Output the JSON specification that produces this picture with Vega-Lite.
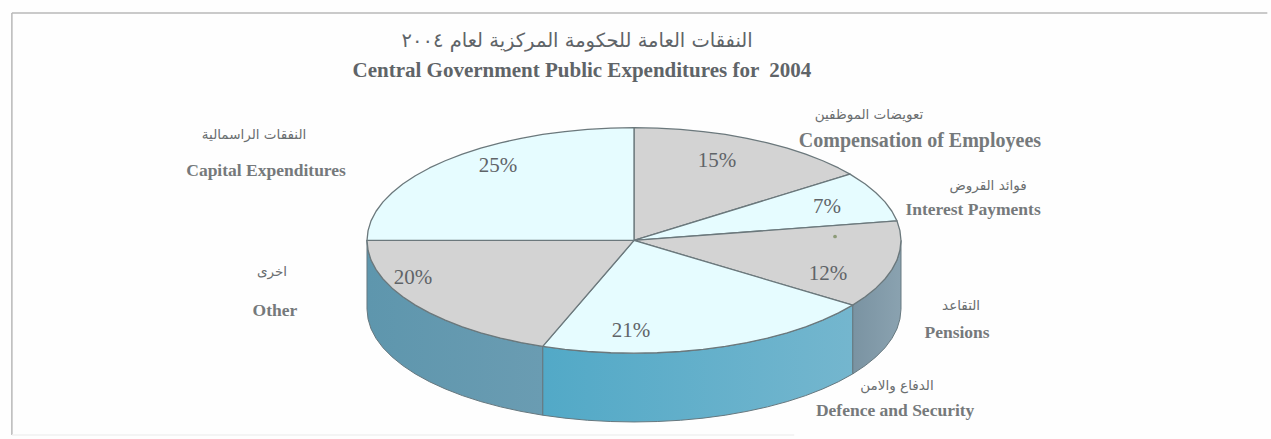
{"$schema":"https://vega.github.io/schema/vega-lite/v6.json","width":1271,"height":439,"autosize":{"type":"fit","contains":"padding"},"padding":0,"background":"#fefefe","config":{"view":{"stroke":null}},
"datasets":{
"frame":[{"s":"top","i":0,"x":-2.33,"y":2.018},{"s":"top","i":1,"x":2.372,"y":2.018},{"s":"left","i":0,"x":-2.33,"y":2.018},{"s":"left","i":1,"x":-2.33,"y":-1.726}],
"bottomframe":[{"s":"bottom","i":0,"x":-2.33,"y":-1.726},{"s":"bottom","i":1,"x":0.6,"y":-1.726}],
"sides":[
{"s":"pen","x":1,"y":0,"b":-0.61},{"s":"pen","x":0.996,"y":-0.087,"b":-0.697},{"s":"pen","x":0.985,"y":-0.174,"b":-0.784},{"s":"pen","x":0.966,"y":-0.259,"b":-0.869},{"s":"pen","x":0.94,"y":-0.342,"b":-0.952},{"s":"pen","x":0.906,"y":-0.423,"b":-1.033},{"s":"pen","x":0.866,"y":-0.5,"b":-1.11},{"s":"pen","x":0.819,"y":-0.574,"b":-1.184},
{"s":"def","x":0.819,"y":-0.574,"b":-1.184},{"s":"def","x":0.766,"y":-0.643,"b":-1.253},{"s":"def","x":0.707,"y":-0.707,"b":-1.317},{"s":"def","x":0.643,"y":-0.766,"b":-1.376},{"s":"def","x":0.574,"y":-0.819,"b":-1.429},{"s":"def","x":0.5,"y":-0.866,"b":-1.476},{"s":"def","x":0.423,"y":-0.906,"b":-1.516},{"s":"def","x":0.342,"y":-0.94,"b":-1.55},{"s":"def","x":0.259,"y":-0.966,"b":-1.576},{"s":"def","x":0.174,"y":-0.985,"b":-1.595},{"s":"def","x":0.087,"y":-0.996,"b":-1.606},{"s":"def","x":0,"y":-1,"b":-1.61},{"s":"def","x":-0.087,"y":-0.996,"b":-1.606},{"s":"def","x":-0.174,"y":-0.985,"b":-1.595},{"s":"def","x":-0.259,"y":-0.966,"b":-1.576},{"s":"def","x":-0.342,"y":-0.94,"b":-1.55},
{"s":"oth","x":-0.342,"y":-0.94,"b":-1.55},{"s":"oth","x":-0.423,"y":-0.906,"b":-1.516},{"s":"oth","x":-0.5,"y":-0.866,"b":-1.476},{"s":"oth","x":-0.574,"y":-0.819,"b":-1.429},{"s":"oth","x":-0.643,"y":-0.766,"b":-1.376},{"s":"oth","x":-0.707,"y":-0.707,"b":-1.317},{"s":"oth","x":-0.766,"y":-0.643,"b":-1.253},{"s":"oth","x":-0.819,"y":-0.574,"b":-1.184},{"s":"oth","x":-0.866,"y":-0.5,"b":-1.11},{"s":"oth","x":-0.906,"y":-0.423,"b":-1.033},{"s":"oth","x":-0.94,"y":-0.342,"b":-0.952},{"s":"oth","x":-0.966,"y":-0.259,"b":-0.869},{"s":"oth","x":-0.985,"y":-0.174,"b":-0.784},{"s":"oth","x":-0.996,"y":-0.087,"b":-0.697},{"s":"oth","x":-1,"y":0,"b":-0.61}],
"faces":[
{"s":"Compensation of Employees","k":"g","a":-1,"x":0,"y":0},{"s":"Compensation of Employees","k":"g","a":0,"x":0,"y":1},{"s":"Compensation of Employees","k":"g","a":5,"x":0.087,"y":0.996},{"s":"Compensation of Employees","k":"g","a":10,"x":0.174,"y":0.985},{"s":"Compensation of Employees","k":"g","a":15,"x":0.259,"y":0.966},{"s":"Compensation of Employees","k":"g","a":20,"x":0.342,"y":0.94},{"s":"Compensation of Employees","k":"g","a":25,"x":0.423,"y":0.906},{"s":"Compensation of Employees","k":"g","a":30,"x":0.5,"y":0.866},{"s":"Compensation of Employees","k":"g","a":35,"x":0.574,"y":0.819},{"s":"Compensation of Employees","k":"g","a":40,"x":0.643,"y":0.766},{"s":"Compensation of Employees","k":"g","a":45,"x":0.707,"y":0.707},{"s":"Compensation of Employees","k":"g","a":50,"x":0.766,"y":0.643},{"s":"Compensation of Employees","k":"g","a":54,"x":0.809,"y":0.588},{"s":"Compensation of Employees","k":"g","a":999,"x":0,"y":0},
{"s":"Interest Payments","k":"c","a":-1,"x":0,"y":0},{"s":"Interest Payments","k":"c","a":54,"x":0.809,"y":0.588},{"s":"Interest Payments","k":"c","a":60,"x":0.866,"y":0.5},{"s":"Interest Payments","k":"c","a":65,"x":0.906,"y":0.423},{"s":"Interest Payments","k":"c","a":70,"x":0.94,"y":0.342},{"s":"Interest Payments","k":"c","a":75,"x":0.966,"y":0.259},{"s":"Interest Payments","k":"c","a":80,"x":0.985,"y":0.174},{"s":"Interest Payments","k":"c","a":999,"x":0,"y":0},
{"s":"Pensions","k":"g","a":-1,"x":0,"y":0},{"s":"Pensions","k":"g","a":80,"x":0.985,"y":0.174},{"s":"Pensions","k":"g","a":85,"x":0.996,"y":0.087},{"s":"Pensions","k":"g","a":90,"x":1,"y":0},{"s":"Pensions","k":"g","a":95,"x":0.996,"y":-0.087},{"s":"Pensions","k":"g","a":100,"x":0.985,"y":-0.174},{"s":"Pensions","k":"g","a":105,"x":0.966,"y":-0.259},{"s":"Pensions","k":"g","a":110,"x":0.94,"y":-0.342},{"s":"Pensions","k":"g","a":115,"x":0.906,"y":-0.423},{"s":"Pensions","k":"g","a":120,"x":0.866,"y":-0.5},{"s":"Pensions","k":"g","a":125,"x":0.819,"y":-0.574},{"s":"Pensions","k":"g","a":999,"x":0,"y":0},
{"s":"Defence and Security","k":"c","a":-1,"x":0,"y":0},{"s":"Defence and Security","k":"c","a":125,"x":0.819,"y":-0.574},{"s":"Defence and Security","k":"c","a":130,"x":0.766,"y":-0.643},{"s":"Defence and Security","k":"c","a":135,"x":0.707,"y":-0.707},{"s":"Defence and Security","k":"c","a":140,"x":0.643,"y":-0.766},{"s":"Defence and Security","k":"c","a":145,"x":0.574,"y":-0.819},{"s":"Defence and Security","k":"c","a":150,"x":0.5,"y":-0.866},{"s":"Defence and Security","k":"c","a":155,"x":0.423,"y":-0.906},{"s":"Defence and Security","k":"c","a":160,"x":0.342,"y":-0.94},{"s":"Defence and Security","k":"c","a":165,"x":0.259,"y":-0.966},{"s":"Defence and Security","k":"c","a":170,"x":0.174,"y":-0.985},{"s":"Defence and Security","k":"c","a":175,"x":0.087,"y":-0.996},{"s":"Defence and Security","k":"c","a":180,"x":0,"y":-1},{"s":"Defence and Security","k":"c","a":185,"x":-0.087,"y":-0.996},{"s":"Defence and Security","k":"c","a":190,"x":-0.174,"y":-0.985},{"s":"Defence and Security","k":"c","a":195,"x":-0.259,"y":-0.966},{"s":"Defence and Security","k":"c","a":200,"x":-0.342,"y":-0.94},{"s":"Defence and Security","k":"c","a":999,"x":0,"y":0},
{"s":"Other","k":"g","a":-1,"x":0,"y":0},{"s":"Other","k":"g","a":200,"x":-0.342,"y":-0.94},{"s":"Other","k":"g","a":205,"x":-0.423,"y":-0.906},{"s":"Other","k":"g","a":210,"x":-0.5,"y":-0.866},{"s":"Other","k":"g","a":215,"x":-0.574,"y":-0.819},{"s":"Other","k":"g","a":220,"x":-0.643,"y":-0.766},{"s":"Other","k":"g","a":225,"x":-0.707,"y":-0.707},{"s":"Other","k":"g","a":230,"x":-0.766,"y":-0.643},{"s":"Other","k":"g","a":235,"x":-0.819,"y":-0.574},{"s":"Other","k":"g","a":240,"x":-0.866,"y":-0.5},{"s":"Other","k":"g","a":245,"x":-0.906,"y":-0.423},{"s":"Other","k":"g","a":250,"x":-0.94,"y":-0.342},{"s":"Other","k":"g","a":255,"x":-0.966,"y":-0.259},{"s":"Other","k":"g","a":260,"x":-0.985,"y":-0.174},{"s":"Other","k":"g","a":265,"x":-0.996,"y":-0.087},{"s":"Other","k":"g","a":270,"x":-1,"y":0},{"s":"Other","k":"g","a":999,"x":0,"y":0},
{"s":"Capital Expenditures","k":"c","a":-1,"x":0,"y":0},{"s":"Capital Expenditures","k":"c","a":270,"x":-1,"y":0},{"s":"Capital Expenditures","k":"c","a":275,"x":-0.996,"y":0.087},{"s":"Capital Expenditures","k":"c","a":280,"x":-0.985,"y":0.174},{"s":"Capital Expenditures","k":"c","a":285,"x":-0.966,"y":0.259},{"s":"Capital Expenditures","k":"c","a":290,"x":-0.94,"y":0.342},{"s":"Capital Expenditures","k":"c","a":295,"x":-0.906,"y":0.423},{"s":"Capital Expenditures","k":"c","a":300,"x":-0.866,"y":0.5},{"s":"Capital Expenditures","k":"c","a":305,"x":-0.819,"y":0.574},{"s":"Capital Expenditures","k":"c","a":310,"x":-0.766,"y":0.643},{"s":"Capital Expenditures","k":"c","a":315,"x":-0.707,"y":0.707},{"s":"Capital Expenditures","k":"c","a":320,"x":-0.643,"y":0.766},{"s":"Capital Expenditures","k":"c","a":325,"x":-0.574,"y":0.819},{"s":"Capital Expenditures","k":"c","a":330,"x":-0.5,"y":0.866},{"s":"Capital Expenditures","k":"c","a":335,"x":-0.423,"y":0.906},{"s":"Capital Expenditures","k":"c","a":340,"x":-0.342,"y":0.94},{"s":"Capital Expenditures","k":"c","a":345,"x":-0.259,"y":0.966},{"s":"Capital Expenditures","k":"c","a":350,"x":-0.174,"y":0.985},{"s":"Capital Expenditures","k":"c","a":355,"x":-0.087,"y":0.996},{"s":"Capital Expenditures","k":"c","a":360,"x":0,"y":1},{"s":"Capital Expenditures","k":"c","a":999,"x":0,"y":0}],
"pct":[{"t":"15%","x":0.311,"y":0.708},{"t":"7%","x":0.723,"y":0.301},{"t":"12%","x":0.727,"y":-0.301},{"t":"21%","x":-0.011,"y":-0.805},{"t":"20%","x":-0.828,"y":-0.336},{"t":"25%","x":-0.509,"y":0.664}],
"en":[{"t":"Interest Payments","x":1.27,"y":0.274},{"t":"Pensions","x":1.21,"y":-0.823},{"t":"Defence and Security","x":0.978,"y":-1.513},{"t":"Other","x":-1.345,"y":-0.628},{"t":"Capital Expenditures","x":-1.378,"y":0.619}],
"enWide":[{"t":"Compensation of Employees","x":1.071,"y":0.885}],
"ar":[{"t":"تعويضات الموظفين","x":0.88,"y":1.115},{"t":"فوائد القروض","x":1.326,"y":0.487},{"t":"التقاعد","x":1.225,"y":-0.584},{"t":"الدفاع والامن","x":0.985,"y":-1.292},{"t":"اخرى","x":-1.356,"y":-0.283},{"t":"النفقات الراسمالية","x":-1.423,"y":0.938}],
"titleEn":[{"t":"Central Government Public Expenditures for \u00a02004","x":-0.195,"y":1.504}],
"titleAr":[{"t":"النفقات العامة للحكومة المركزية لعام ٢٠٠٤","x":-0.213,"y":1.77}],
"dot":[{"x":0.753,"y":0.035}]
},
"encoding":{"x":{"field":"x","type":"quantitative","axis":null,"scale":{"domain":[-2.3745,2.3858],"zero":false,"nice":false}},"y":{"field":"y","type":"quantitative","axis":null,"scale":{"domain":[-1.7522,2.1327],"zero":false,"nice":false}}},
"layer":[
{"data":{"name":"frame"},"mark":{"type":"line","stroke":"#b8b8b8","strokeWidth":1.5},"encoding":{"detail":{"field":"s"},"order":{"field":"i"}}},
{"data":{"name":"bottomframe"},"mark":{"type":"line","stroke":"#f0f0f0","strokeWidth":1.5},"encoding":{"detail":{"field":"s"},"order":{"field":"i"}}},
{"data":{"name":"sides"},"transform":[{"filter":"datum.s==='pen'"}],"mark":{"type":"area","stroke":"#66787f","strokeWidth":1,"fill":{"gradient":"linear","x1":0,"x2":1,"y1":0,"y2":0,"stops":[{"offset":0,"color":"#7a93a2"},{"offset":1,"color":"#8aa2b0"}]}},"encoding":{"y2":{"field":"b"}}},
{"data":{"name":"sides"},"transform":[{"filter":"datum.s==='def'"}],"mark":{"type":"area","stroke":"#66787f","strokeWidth":1,"fill":{"gradient":"linear","x1":0,"x2":1,"y1":0,"y2":0,"stops":[{"offset":0,"color":"#52a9c7"},{"offset":1,"color":"#74b6ce"}]}},"encoding":{"y2":{"field":"b"}}},
{"data":{"name":"sides"},"transform":[{"filter":"datum.s==='oth'"}],"mark":{"type":"area","stroke":"#66787f","strokeWidth":1,"fill":{"gradient":"linear","x1":0,"x2":1,"y1":0,"y2":0,"stops":[{"offset":0,"color":"#5e96ad"},{"offset":1,"color":"#6a9cb2"}]}},"encoding":{"y2":{"field":"b"}}},
{"data":{"name":"faces"},"mark":{"type":"line","stroke":"#6b787c","strokeWidth":1.3,"strokeJoin":"round"},"encoding":{"detail":{"field":"s"},"order":{"field":"a"},"fill":{"field":"k","type":"nominal","legend":null,"scale":{"domain":["c","g"],"range":["#e6fcff","#d3d3d3"]}}}},
{"data":{"name":"dot"},"mark":{"type":"circle","size":14,"color":"#8d9b78","opacity":1}},
{"data":{"name":"pct"},"mark":{"type":"text","font":"Liberation Serif","fontSize":21,"color":"#5f6468","align":"center","baseline":"middle"},"encoding":{"text":{"field":"t"}}},
{"data":{"name":"en"},"mark":{"type":"text","font":"Liberation Serif","fontWeight":"bold","fontSize":17.5,"color":"#75797b","align":"center","baseline":"middle"},"encoding":{"text":{"field":"t"}}},
{"data":{"name":"enWide"},"mark":{"type":"text","font":"Liberation Serif","fontWeight":"bold","fontSize":20,"color":"#75797b","align":"center","baseline":"middle"},"encoding":{"text":{"field":"t"}}},
{"data":{"name":"ar"},"mark":{"type":"text","font":"DejaVu Sans","fontSize":13.5,"color":"#6a6e70","align":"center","baseline":"middle"},"encoding":{"text":{"field":"t"}}},
{"data":{"name":"titleEn"},"mark":{"type":"text","font":"Liberation Serif","fontWeight":"bold","fontSize":21,"color":"#5f6468","align":"center","baseline":"middle"},"encoding":{"text":{"field":"t"}}},
{"data":{"name":"titleAr"},"mark":{"type":"text","font":"DejaVu Sans","fontSize":19.5,"color":"#5f6468","align":"center","baseline":"middle"},"encoding":{"text":{"field":"t"}}}
]}
